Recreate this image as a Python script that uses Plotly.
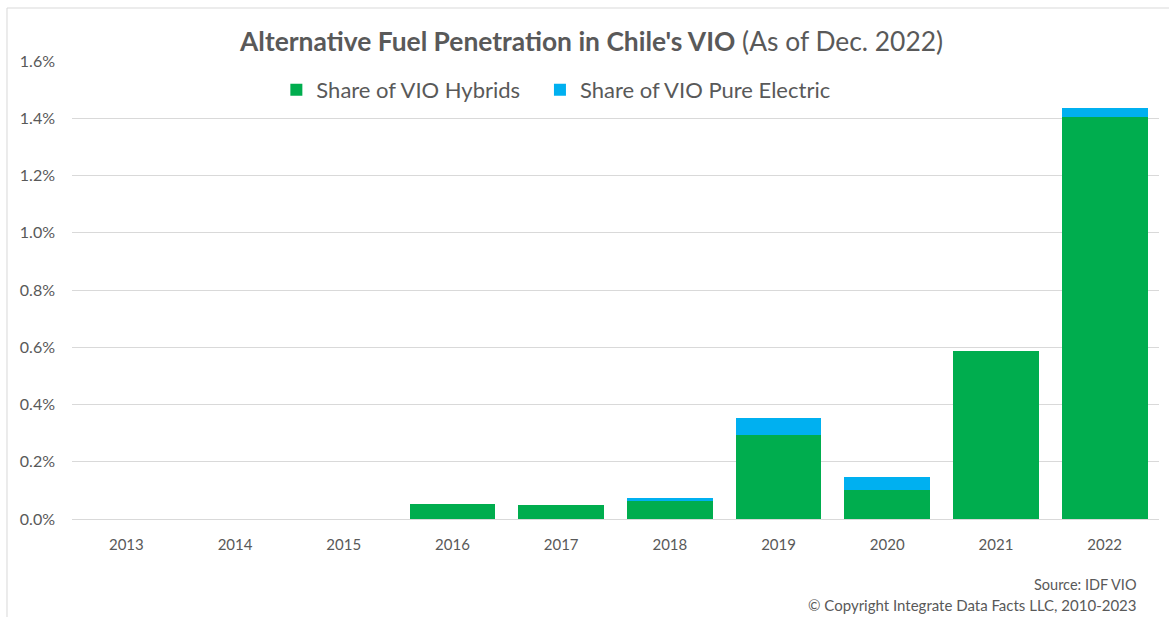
import plotly.graph_objects as go

years = ["2013", "2014", "2015", "2016", "2017", "2018", "2019", "2020", "2021", "2022"]
hybrids = [0.0, 0.0, 0.0, 0.054, 0.049, 0.064, 0.292, 0.102, 0.588, 1.403]
pure_electric = [0.0, 0.0, 0.0, 0.0, 0.0, 0.008, 0.061, 0.044, 0.0, 0.032]
y_ticks = [0.0, 0.2, 0.4, 0.6, 0.8, 1.0, 1.2, 1.4, 1.6]
y_tick_labels = ["0.0%", "0.2%", "0.4%", "0.6%", "0.8%", "1.0%", "1.2%", "1.4%", "1.6%"]

GREEN = "#00AD4E"
BLUE = "#00B0F0"
GRAY = "#595959"
FONT = "Lato"

fig = go.Figure()
fig.add_trace(go.Bar(x=years, y=hybrids, name="Share of VIO Hybrids",
                     marker=dict(color=GREEN, line=dict(width=0)), legend="legend"))
fig.add_trace(go.Bar(x=years, y=pure_electric, name="Share of VIO Pure Electric",
                     marker=dict(color=BLUE, line=dict(width=0)), legend="legend2"))

legend_style = dict(
    orientation="h", xanchor="left", y=0.937, yanchor="middle",
    font=dict(family=FONT, size=22, color=GRAY), bgcolor="rgba(0,0,0,0)",
    itemwidth=30,
)

fig.update_layout(
    barmode="stack",
    bargap=0.21,
    width=1169, height=617,
    margin=dict(l=72, r=10, t=61, b=98),
    paper_bgcolor="white", plot_bgcolor="white",
    font=dict(family=FONT, color=GRAY),
    title=dict(
        text="<b>Alternative Fuel Penetration in Chile's VIO</b> (As of Dec. 2022)",
        x=0.478, xanchor="center", xref="paper", y=0.932, yanchor="middle", yref="container",
        font=dict(family=FONT, size=26.4, color=GRAY),
    ),
    legend=dict(x=0.188, **legend_style),
    legend2=dict(x=0.4305, **legend_style),
    showlegend=True,
    xaxis=dict(
        showgrid=False, showline=True, linecolor="#D9D9D9", linewidth=1,
        tickfont=dict(family=FONT, size=15, color=GRAY), ticks="", ticklabelstandoff=12,
    ),
    yaxis=dict(
        range=[0, 1.6], tickvals=y_ticks, ticktext=y_tick_labels,
        showgrid=True, gridcolor="#D9D9D9", gridwidth=1, zeroline=False,
        tickfont=dict(family=FONT, size=16, color=GRAY), ticklabelstandoff=16,
    ),
    shapes=[dict(type="rect", xref="paper", yref="paper",
                 x0=-0.0598, x1=1.2, y0=-0.5, y1=1.1157,
                 line=dict(color="#D9D9D9", width=1), fillcolor="rgba(0,0,0,0)", layer="below")],
    annotations=[
        dict(text="Source: IDF VIO", xref="paper", yref="paper", x=0.9817, y=-0.144,
             xanchor="right", yanchor="middle", showarrow=False,
             font=dict(family=FONT, size=14.5, color=GRAY)),
        dict(text="© Copyright Integrate Data Facts LLC, 2010-2023", xref="paper", yref="paper",
             x=0.9817, y=-0.188, xanchor="right", yanchor="middle", showarrow=False,
             font=dict(family=FONT, size=15, color=GRAY)),
    ],
)

fig.write_html("out.html", config={"displayModeBar": False},
               post_script="document.body.style.margin='0';document.body.style.overflow='hidden';")
